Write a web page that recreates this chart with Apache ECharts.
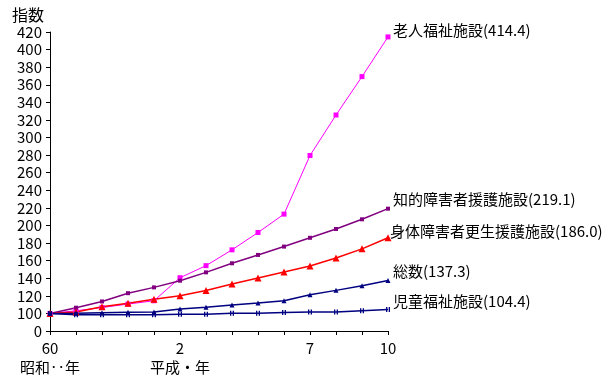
<!DOCTYPE html>
<html>
<head>
<meta charset="utf-8">
<script src="https://cdn.jsdelivr.net/npm/echarts@6/dist/echarts.min.js"></script>
<style>
html,body{margin:0;padding:0;background:#fff;}
#c{width:616px;height:390px;}
</style>
</head>
<body>
<div id="c"></div>
<script>
// Years: Showa 60 (1985) .. Heisei 10 (1998)
const categories = ['60','61','62','63','元','2','3','4','5','6','7','8','9','10'];
const shownTicks = {0:'60\n昭和‥年', 5:'2\n平成・年', 10:'7', 13:'10'};
const yTickLabels = {80:'0'}; // axis break: bottom tick is labelled 0

const roujin   = [100, 103, 106.7, 110.6, 114.4, 140.6, 154.3, 172.3, 192, 212.9, 279.6, 325.6, 369.3, 414.4];
const chiteki  = [100, 106.5, 113.6, 123, 129.6, 137.2, 146.7, 157, 166.5, 176, 186, 196, 207, 219.1];
const shintai  = [100, 101.5, 107.5, 111.5, 116, 120, 126, 133.4, 140.3, 147, 154, 163, 173.4, 186.0];
const sousu    = [100, 100.3, 100.8, 101.3, 101.5, 105, 107, 109.5, 111.8, 114.4, 121.2, 126.2, 131.5, 137.3];
const jidou    = [100, 98.5, 98.5, 98.5, 98.5, 99, 99, 100.3, 100.3, 101, 101.5, 101.5, 103, 104.4];

const FONT = '"Noto Sans CJK JP", "Noto Sans", sans-serif';

function mk(name, data, color, symbol, size, width, offset, dist) {
  return {
    name: name, type: 'line', data: data,
    symbol: symbol, symbolSize: size, showAllSymbol: true,
    lineStyle: {color: color, width: width},
    itemStyle: {color: color},
    endLabel: {
      show: true, color: '#000', fontFamily: FONT, fontSize: 15,
      offset: offset, distance: dist,
      formatter: p => p.seriesName + '(' + Number(p.value).toFixed(1) + ')'
    },
    emphasis: {disabled: true}
  };
}

const chart = echarts.init(document.getElementById('c'), null, {renderer: 'canvas'});
chart.setOption({
  animation: false,
  backgroundColor: '#fff',
  title: {text: '指数', left: 7, top: 2, textStyle: {fontFamily: FONT, fontSize: 16, fontWeight: 'normal', color: '#000'}},
  grid: {left: 50, right: 228, top: 32, bottom: 59},
  xAxis: {
    type: 'category', data: categories, boundaryGap: false,
    axisLine: {lineStyle: {color: '#000', width: 1}},
    axisTick: {show: true, interval: 0, length: 4, lineStyle: {color: '#000'}},
    axisLabel: {
      interval: (i) => shownTicks[i] !== undefined,
      formatter: (v, i) => shownTicks[i] || '',
      color: '#000', fontFamily: FONT, fontSize: 15, lineHeight: 19, margin: 8
    },
    splitLine: {show: false}
  },
  yAxis: {
    type: 'value', min: 80, max: 420, interval: 20,
    axisLine: {show: true, lineStyle: {color: '#000', width: 1}},
    axisTick: {show: true, length: 4, lineStyle: {color: '#000'}},
    axisLabel: {
      formatter: v => (yTickLabels[v] !== undefined ? yTickLabels[v] : String(v)),
      color: '#000', fontFamily: FONT, fontSize: 15, margin: 8
    },
    splitLine: {show: false}
  },
  series: [
    mk('老人福祉施設', roujin, '#FF00FF', 'rect', 5, 1, [0, -7], 5),
    mk('知的障害者援護施設', chiteki, '#800080', 'rect', 4, 1.5, [0, -9], 5),
    mk('身体障害者更生援護施設', shintai, '#FF0000', 'triangle', 7, 1.5, [0, -6], 2),
    mk('総数', sousu, '#000080', 'triangle', 5, 1.5, [0, -9], 5),
    mk('児童福祉施設', jidou, '#000080', 'path://M0,0H1V5H0Z M2,0H3V5H2Z', [4, 5], 1.5, [0, -8], 5)
  ]
});
</script>
</body>
</html>
